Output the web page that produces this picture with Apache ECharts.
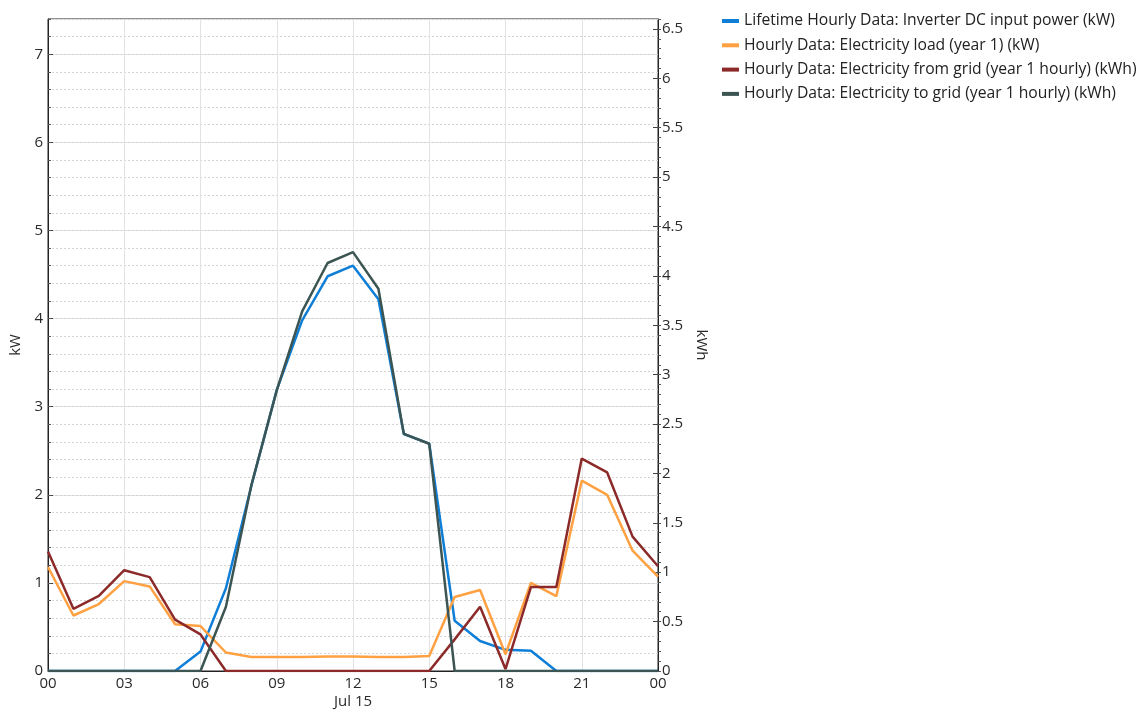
<!DOCTYPE html>
<html>
<head>
<meta charset="utf-8">
<script src="https://cdn.jsdelivr.net/npm/echarts@6/dist/echarts.min.js"></script>
<style>
  html, body { margin: 0; padding: 0; background: #fff; }
  #chart { width: 1143px; height: 710px; }
</style>
</head>
<body>
<div id="chart"></div>
<script>
// Hour of day (Jul 15, 00:00 through the next 00:00)
const hours = [0,1,2,3,4,5,6,7,8,9,10,11,12,13,14,15,16,17,18,19,20,21,22,23,24];

// kW (left axis)
const inverterDcPower = [0,0,0,0,0,0,0.22,0.94,2.10,3.19,3.98,4.48,4.60,4.22,2.69,2.58,0.57,0.34,0.24,0.23,0,0,0,0,0];
const electricityLoad = [1.18,0.63,0.76,1.02,0.96,0.53,0.51,0.21,0.16,0.16,0.16,0.165,0.165,0.16,0.16,0.17,0.84,0.92,0.19,1.00,0.85,2.16,2.00,1.365,1.07];

// kWh (right axis)
const electricityFromGrid = [1.21,0.63,0.76,1.02,0.95,0.52,0.37,0,0,0,0,0,0,0,0,0,0.32,0.65,0.02,0.85,0.85,2.15,2.01,1.36,1.06];
const electricityToGrid = [0,0,0,0,0,0,0,0.65,1.88,2.84,3.64,4.13,4.24,3.87,2.40,2.30,0,0,0,0,0,0,0,0,0];

const seriesNames = [
  'Lifetime Hourly Data: Inverter DC input power (kW)',
  'Hourly Data: Electricity load (year 1) (kW)',
  'Hourly Data: Electricity from grid (year 1 hourly) (kWh)',
  'Hourly Data: Electricity to grid (year 1 hourly) (kWh)'
];
const seriesColors = ['#0f7ed6', '#ffa142', '#8c2a2a', '#3c5553'];
const dateLabel = 'Jul 15';

const FONT = 'Open Sans';
const TEXT = '#2a2a2a';
const LABEL_SIZE = 15;

const pairs = vals => hours.map((h, i) => [h, vals[i]]);
const KW_MAX = 7.4, KWH_MAX = 6.6;

const chart = echarts.init(document.getElementById('chart'), null, { renderer: 'canvas' });

function lineSeries(idx, vals, yAxisIndex) {
  return {
    name: seriesNames[idx],
    type: 'line',
    data: pairs(vals),
    yAxisIndex: yAxisIndex,
    showSymbol: false,
    symbol: 'none',
    animation: false,
    lineStyle: { width: 2.5, color: seriesColors[idx] },
    itemStyle: { color: seriesColors[idx] }
  };
}

chart.setOption({
  animation: false,
  textStyle: { fontFamily: FONT },
  grid: {
    left: 48, right: 485, top: 19, bottom: 39,
    outerBoundsMode: 'none',
    containLabel: false,
    show: true, borderColor: '#222', borderWidth: 1, backgroundColor: 'transparent'
  },
  legend: {
    orient: 'vertical',
    left: 722, top: 12,
    padding: 0,
    itemWidth: 17, itemHeight: 4, itemGap: 6.3,
    icon: 'rect',
    textStyle: { fontFamily: FONT, fontSize: 15.7, color: '#222', lineHeight: 18 },
    data: seriesNames
  },
  xAxis: {
    type: 'value',
    min: 0, max: 24, interval: 3,
    name: dateLabel,
    nameLocation: 'middle',
    nameGap: 23,
    nameMoveOverlap: false,
    nameTextStyle: { fontFamily: FONT, fontSize: LABEL_SIZE, color: TEXT },
    axisLine: { show: true, lineStyle: { color: '#222', width: 1 } },
    axisTick: { show: false },
    axisLabel: {
      fontFamily: FONT, fontSize: LABEL_SIZE, color: TEXT, margin: 5,
      formatter: v => String(v % 24).padStart(2, '0')
    },
    splitLine: { show: true, lineStyle: { color: '#e2e2e2', width: 1 } }
  },
  yAxis: [
    { // kW, major ticks and solid grid
      type: 'value', position: 'left',
      min: 0, max: KW_MAX, interval: 1,
      name: 'kW', nameLocation: 'middle', nameGap: 25, nameRotate: 90,
      nameTextStyle: { fontFamily: FONT, fontSize: LABEL_SIZE, color: TEXT },
      axisLine: { show: true, lineStyle: { color: '#222', width: 1 } },
      axisTick: { show: true, inside: true, length: 5, lineStyle: { color: '#444' } },
      axisLabel: { fontFamily: FONT, fontSize: LABEL_SIZE, color: TEXT, margin: 5, showMaxLabel: false },
      splitLine: { show: true, lineStyle: { color: '#e2e2e2', width: 1 } }
    },
    { // kWh, major ticks and labels
      type: 'value', position: 'right',
      min: 0, max: KWH_MAX, interval: 0.5,
      name: 'kWh', nameLocation: 'middle', nameGap: 33, nameRotate: -90,
      nameTextStyle: { fontFamily: FONT, fontSize: LABEL_SIZE, color: TEXT },
      axisLine: { show: true, lineStyle: { color: '#222', width: 1 } },
      axisTick: { show: true, inside: true, length: 5, lineStyle: { color: '#444' } },
      axisLabel: { fontFamily: FONT, fontSize: LABEL_SIZE, color: TEXT, margin: 4, showMaxLabel: false },
      splitLine: { show: false }
    },
    { // kW, 0.2 subdivisions: dotted grid and short ticks
      type: 'value', position: 'left',
      min: 0, max: KW_MAX, interval: 0.2,
      axisLine: { show: false },
      axisTick: { show: true, inside: true, length: 3, lineStyle: { color: '#555' } },
      axisLabel: { show: false },
      splitLine: { show: true, lineStyle: { color: '#d4d4d4', width: 1, type: [2, 2] } }
    },
    { // kWh, 0.1 subdivisions: short ticks
      type: 'value', position: 'right',
      min: 0, max: KWH_MAX, interval: 0.1,
      axisLine: { show: false },
      axisTick: { show: true, inside: false, length: 3, lineStyle: { color: '#555' } },
      axisLabel: { show: false },
      splitLine: { show: false }
    }
  ],
  series: [
    lineSeries(0, inverterDcPower, 0),
    lineSeries(1, electricityLoad, 0),
    lineSeries(2, electricityFromGrid, 1),
    lineSeries(3, electricityToGrid, 1)
  ]
});
</script>
</body>
</html>
